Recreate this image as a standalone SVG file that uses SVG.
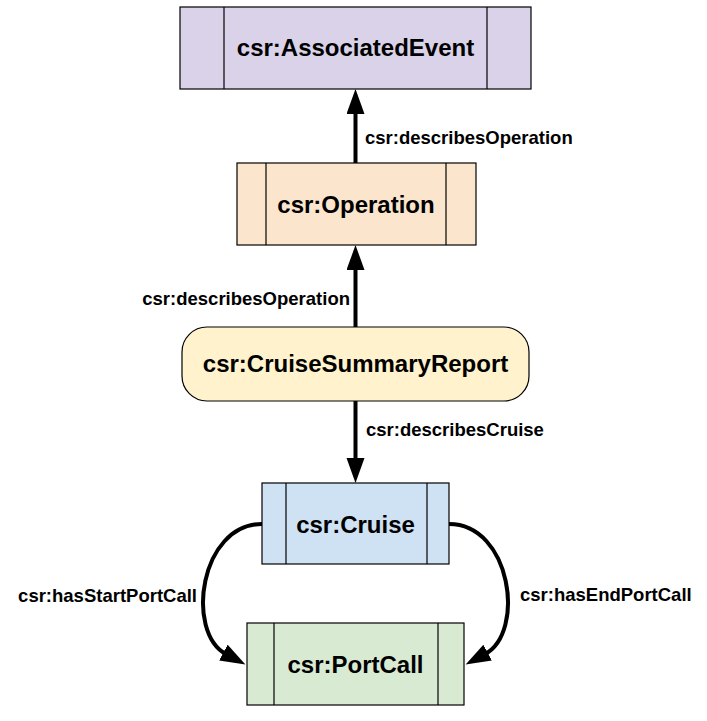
<svg xmlns="http://www.w3.org/2000/svg" width="707" height="721" viewBox="0 0 707 721">
<defs>
<style>
.box{stroke:#000;stroke-width:1.2}
.div{stroke:#000;stroke-width:1.2;fill:none}
.nl{font-family:"Liberation Sans",Arial,sans-serif;font-weight:bold;font-size:24px;fill:#000;text-anchor:middle}
.el{font-family:"Liberation Sans",Arial,sans-serif;font-weight:bold;font-size:18.5px;fill:#000}
.edge{stroke:#000;stroke-width:4;fill:none;marker-end:url(#ah)}
</style>
<marker id="ah" markerUnits="userSpaceOnUse" markerWidth="26" markerHeight="20" viewBox="0 0 26 20" refX="3" refY="9" orient="auto">
<path d="M0,0 L25,9 L0,18 Z" fill="#000"/>
</marker>
</defs>
<rect width="707" height="721" fill="#fff"/>
<g id="connectors">
<line class="edge" x1="355.5" y1="163" x2="355.5" y2="111"/>
<line class="edge" x1="355.5" y1="327" x2="355.5" y2="267"/>
<line class="edge" x1="355.5" y1="401" x2="355.5" y2="461"/>
<path class="edge" d="M262,524 C200,524 185,632 226,654"/>
<path class="edge" d="M449,524 C511,524 526,632 485,654"/>
<text class="el" x="365" y="144">csr:describesOperation</text>
<text class="el" x="350" y="305" text-anchor="end">csr:describesOperation</text>
<text class="el" x="366" y="436">csr:describesCruise</text>
<text class="el" x="197" y="602" text-anchor="end">csr:hasStartPortCall</text>
<text class="el" x="520" y="601">csr:hasEndPortCall</text>
</g>
<g id="associatedEvent">
<rect class="box" x="180" y="7" width="351" height="82" fill="#d9d2e9"/>
<line class="div" x1="224" y1="7" x2="224" y2="89"/>
<line class="div" x1="487" y1="7" x2="487" y2="89"/>
<text class="nl" x="355.5" y="56">csr:AssociatedEvent</text>
</g>
<g id="operation">
<rect class="box" x="237" y="163" width="239" height="82" fill="#fce5cd"/>
<line class="div" x1="266" y1="163" x2="266" y2="245"/>
<line class="div" x1="446" y1="163" x2="446" y2="245"/>
<text class="nl" x="356" y="213">csr:Operation</text>
</g>
<g id="cruiseSummaryReport">
<rect class="box" x="182" y="327" width="347" height="74" rx="25" ry="25" fill="#fff2cc"/>
<text class="nl" x="355.5" y="372">csr:CruiseSummaryReport</text>
</g>
<g id="cruise">
<rect class="box" x="262" y="483" width="187" height="81" fill="#cfe2f3"/>
<line class="div" x1="286" y1="483" x2="286" y2="564"/>
<line class="div" x1="427" y1="483" x2="427" y2="564"/>
<text class="nl" x="355.5" y="533">csr:Cruise</text>
</g>
<g id="portCall">
<rect class="box" x="247" y="623" width="217" height="82" fill="#d9ead3"/>
<line class="div" x1="274" y1="623" x2="274" y2="705"/>
<line class="div" x1="438" y1="623" x2="438" y2="705"/>
<text class="nl" x="355.5" y="673">csr:PortCall</text>
</g>
</svg>
